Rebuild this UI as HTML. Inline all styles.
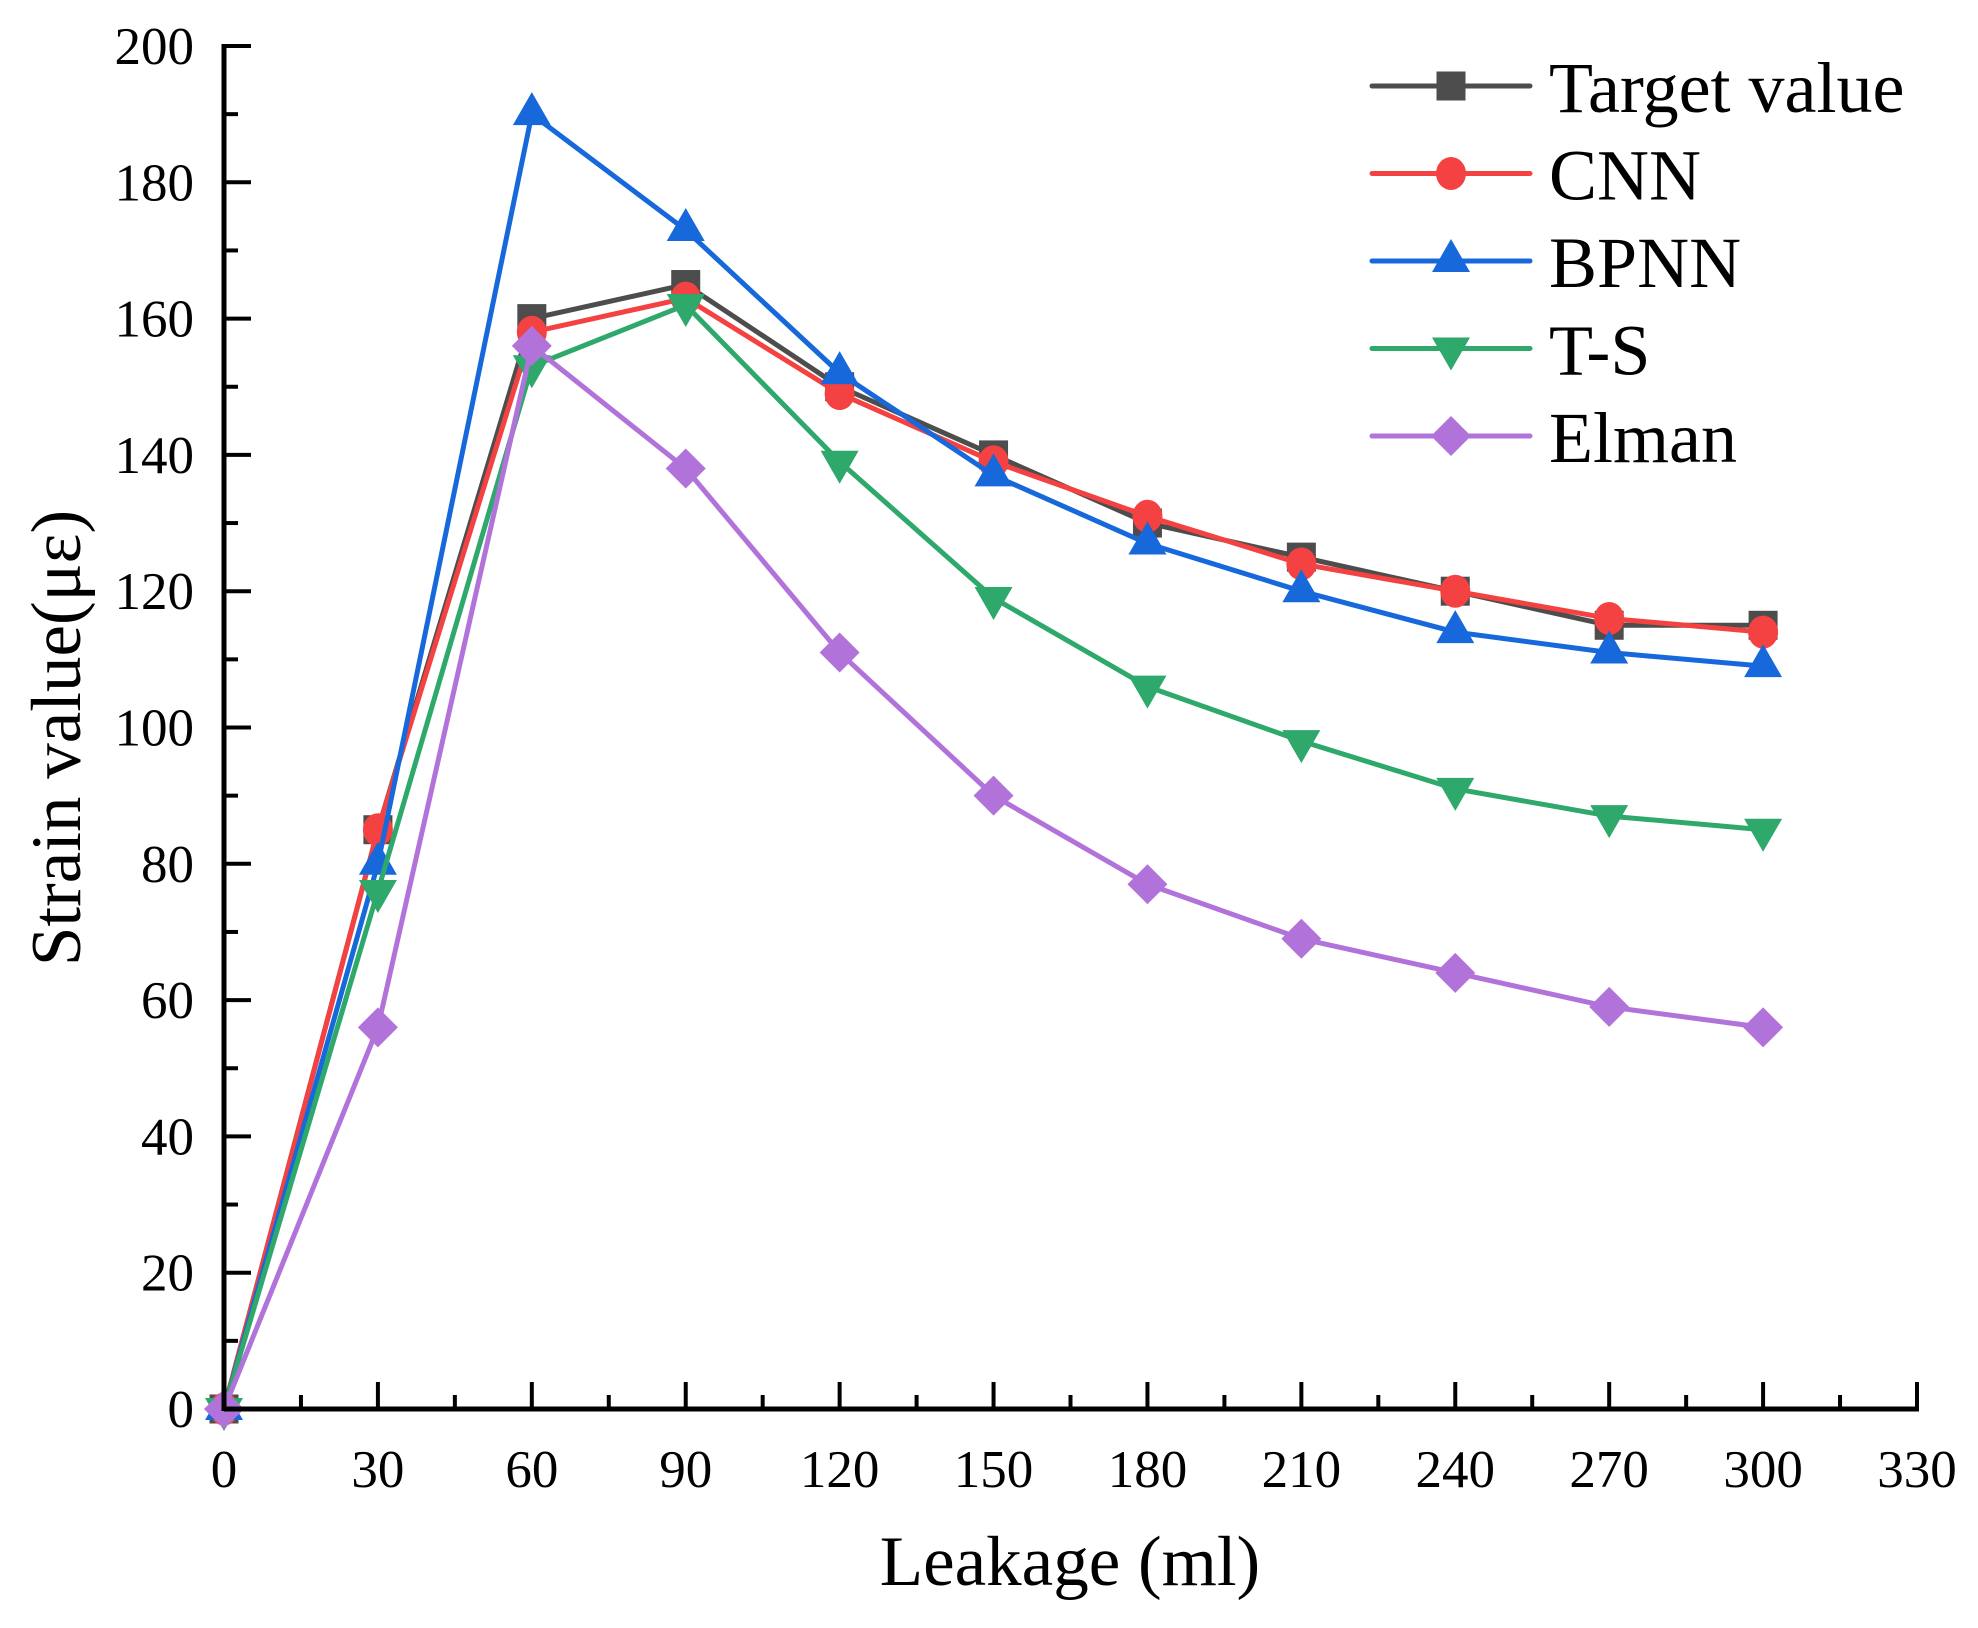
<!DOCTYPE html>
<html><head><meta charset="utf-8"><style>
body{margin:0;background:#fff;}
svg{display:block;font-family:"Liberation Serif",serif;}
</style></head><body>
<svg id="chart" width="1978" height="1628" viewBox="0 0 1978 1628" xmlns="http://www.w3.org/2000/svg">
<g id="plot"></g>
<g id="axes"></g>
<g id="legend"></g>
<text x="0" y="0" transform="translate(80,738) rotate(-90)" text-anchor="middle" font-size="71">Strain value(με)</text>
<text x="1070" y="1585" text-anchor="middle" font-size="71">Leakage (ml)</text>
</svg>
<script>
const categories = [0,30,60,90,120,150,180,210,240,270,300];
const targetValues = [0,85,160,165,150,140,130,125,120,115,115];
const cnnValues = [0,85,158,163,149,139,131,124,120,116,114];
const bpnnValues = [0,80,190,173,152,137,127,120,114,111,109];
const tsValues = [0,76,153,162,139,119,106,98,91,87,85];
const elmanValues = [0,56,156,138,111,90,77,69,64,59,56];
const xTicks = [0,30,60,90,120,150,180,210,240,270,300,330];
const yTicks = [0,20,40,60,80,100,120,140,160,180,200];
const seriesNames = ['Target value','CNN','BPNN','T-S','Elman'];

const NS='http://www.w3.org/2000/svg';
const X0=224,X1=1917,Y0=1409,Y1=46;
function xs(v){return X0+(v-0)/(330-0)*(X1-X0);}
function ys(v){return Y0-(v-0)/(200-0)*(Y0-Y1);}
function mk(tag,attrs,parent){const e=document.createElementNS(NS,tag);for(const k in attrs)e.setAttribute(k,attrs[k]);parent.appendChild(e);return e;}

const series=[
 {vals:targetValues,color:'#4d4d4d',shape:'square',key:'target'},
 {vals:cnnValues,color:'#f44242',shape:'circle',key:'cnn'},
 {vals:bpnnValues,color:'#1769db',shape:'up',key:'bpnn'},
 {vals:tsValues,color:'#2ea86b',shape:'down',key:'ts'},
 {vals:elmanValues,color:'#b173da',shape:'diamond',key:'elman'}
];
function marker(shape,cx,cy,color,parent){
 let e;
 if(shape==='square') e=mk('rect',{x:cx-14.5,y:cy-14.5,width:29,height:29,fill:color},parent);
 else if(shape==='circle') e=mk('ellipse',{cx:cx,cy:cy,rx:15,ry:16.5,fill:color},parent);
 else if(shape==='up') e=mk('polygon',{points:`${cx},${cy-22} ${cx-19},${cy+11} ${cx+19},${cy+11}`,fill:color},parent);
 else if(shape==='down') e=mk('polygon',{points:`${cx},${cy+22} ${cx-19},${cy-11} ${cx+19},${cy-11}`,fill:color},parent);
 else e=mk('polygon',{points:`${cx},${cy-20} ${cx+20},${cy} ${cx},${cy+20} ${cx-20},${cy}`,fill:color},parent);
 return e;
}
const plot=document.getElementById('plot');
series.forEach((s,si)=>{
 const g=mk('g',{},plot);
 
 
 const pts=s.vals.map((v,i)=>xs(categories[i])+','+ys(v)).join(' ');
 const pl=mk('polyline',{points:pts,fill:'none',stroke:s.color,'stroke-width':5,'stroke-linejoin':'round'},g);
 
 
 s.vals.forEach((v,i)=>{
  const m=marker(s.shape,xs(categories[i]),ys(v),s.color,g);
  
  
 });
});
const axes=document.getElementById('axes');
const xl=mk('line',{x1:X0,y1:Y0,x2:X1+2,y2:Y0,stroke:'#000','stroke-width':5},axes);


const yl=mk('line',{x1:X0,y1:Y0+2,x2:X0,y2:Y1-2,stroke:'#000','stroke-width':5},axes);


xTicks.forEach((t,i)=>{
 const x=xs(t);
 mk('line',{x1:x,y1:Y0,x2:x,y2:Y0-27,stroke:'#000','stroke-width':4},axes);
 if(i<xTicks.length-1){const xm=xs(t+15);mk('line',{x1:xm,y1:Y0,x2:xm,y2:Y0-14,stroke:'#000','stroke-width':4},axes);}
 const tx=mk('text',{x:x,y:1487,'text-anchor':'middle','font-size':53},axes);
 tx.textContent=t;
 
 
});
yTicks.forEach((t,i)=>{
 const y=ys(t);
 mk('line',{x1:X0,y1:y,x2:X0+27,y2:y,stroke:'#000','stroke-width':4},axes);
 if(i<yTicks.length-1){const ym=ys(t+10);mk('line',{x1:X0,y1:ym,x2:X0+14,y2:ym,stroke:'#000','stroke-width':4},axes);}
 const tx=mk('text',{x:194,y:y+18,'text-anchor':'end','font-size':53},axes);
 tx.textContent=t;
 
 
});
const legend=document.getElementById('legend');
series.forEach((s,i)=>{
 const y=86+i*87.5;
 const g=mk('g',{},legend);
 
 
 mk('line',{x1:1372,y1:y,x2:1530,y2:y,stroke:s.color,'stroke-width':5,'stroke-linecap':'round'},g);
 marker(s.shape,1451,y,s.color,g);
 const tx=mk('text',{x:1549,y:y+26,'font-size':72},g);
 tx.textContent=seriesNames[i];
});
</script>
</body></html>
